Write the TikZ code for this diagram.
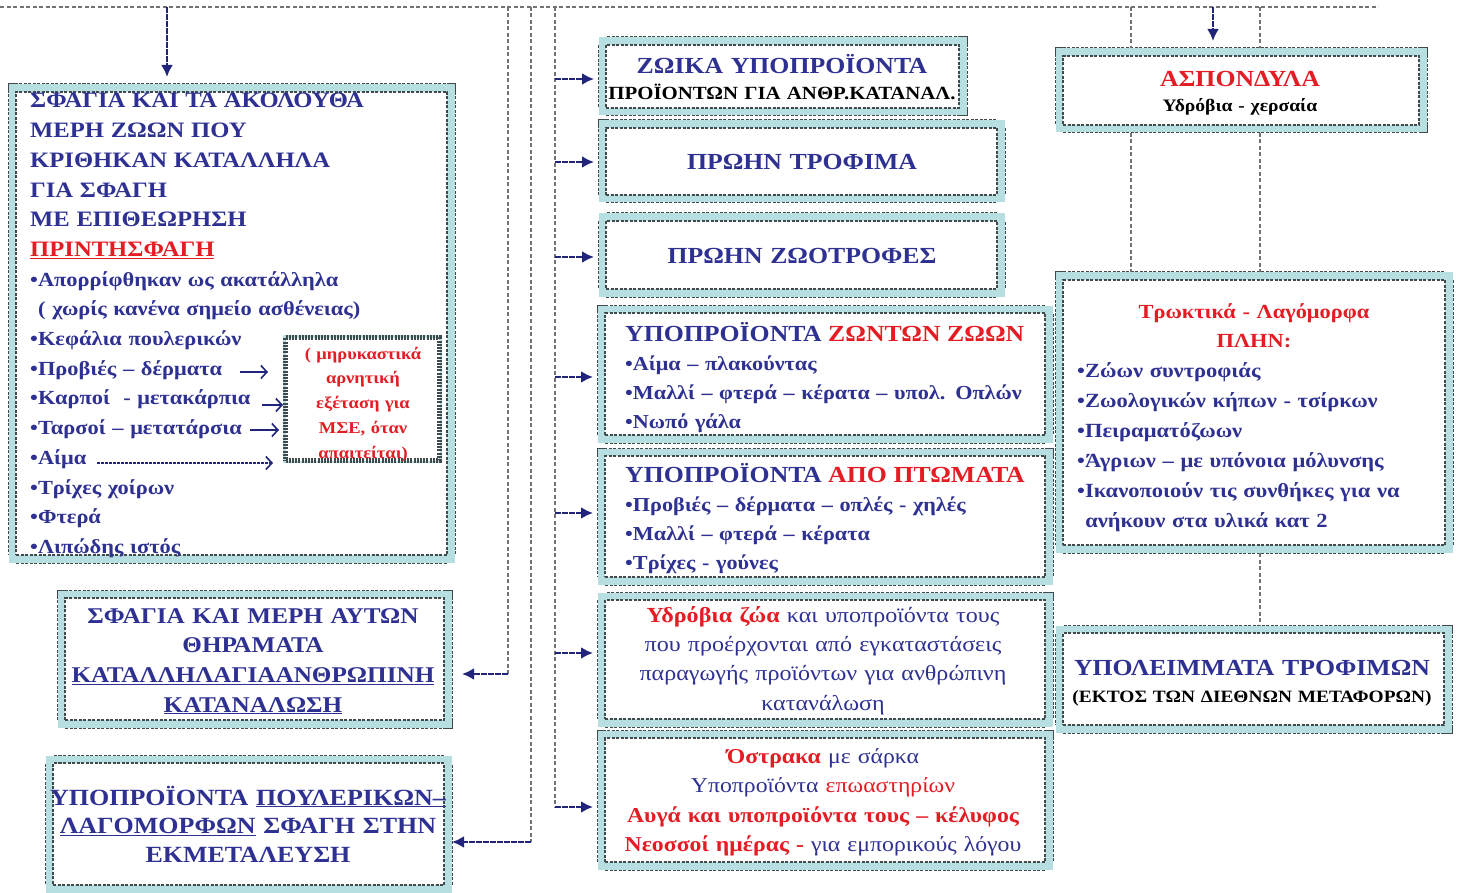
\documentclass[tikz,border=0pt]{standalone}
\usepackage{fontspec}
\setmainfont{Liberation Serif}[FakeStretch=1.12]
\usetikzlibrary{arrows.meta}

\definecolor{navy}{RGB}{46,49,146}
\definecolor{redtxt}{RGB}{228,28,36}
\definecolor{bandteal}{RGB}{183,222,224}
\definecolor{edgegray}{RGB}{64,74,76}
\definecolor{arrnavy}{RGB}{32,36,122}

\newcommand{\capsfont}{\bfseries\fontsize{23}{29.7}\selectfont}
\newcommand{\subfont}{\bfseries\fontsize{18.6}{22}\selectfont}
\newcommand{\listfont}{\bfseries\fontsize{19.8}{29}\selectfont}
\newcommand{\plainfont}{\fontsize{21.5}{29.4}\selectfont}
\newcommand{\msefont}{\bfseries\fontsize{16.5}{24.8}\selectfont}

\tikzset{
  frame/.style={fill=white, draw=edgegray, line width=1.1pt,
    dash pattern=on 3pt off 1.5pt, inner sep=0pt, outer sep=8pt,
    preaction={draw=edgegray, line width=17pt, dash pattern=on 3pt off 1.5pt},
    preaction={draw=bandteal, line width=15pt, solid}},
  msebox/.style={fill=white, draw=edgegray, line width=5pt,
    dash pattern=on 2pt off 1.2pt, inner sep=0pt,
    preaction={draw=bandteal, line width=5pt, solid}},
  spine/.style={draw=black!55, line width=1.1pt, dash pattern=on 4pt off 2.5pt},
  feed/.style={draw=arrnavy, line width=2.6pt, dash pattern=on 6pt off 1pt,
    -{Latex[length=12pt,width=12pt]}},
  pointer/.style={draw=arrnavy, line width=1.6pt,
    -{Straight Barb[length=6pt,width=13pt]}},
  txt/.style={inner sep=0pt, text=navy, align=left, text width=#1},
  txt/.default=420pt,
  ctxt/.style={inner sep=0pt, text=navy, align=center, text width=#1, anchor=base},
  ctxt/.default=480pt
}

\begin{document}
\begin{tikzpicture}[x=1pt,y=-1pt]
  \useasboundingbox (0,0) rectangle (1461,893);

  % dashed bus and spines
  \coordinate (busL) at (0,7);
  \coordinate (busR) at (1378,7);
  \coordinate (sp1) at (508,7);
  \coordinate (sp1b) at (508,674);
  \coordinate (sp2) at (531,7);
  \coordinate (sp2b) at (531,842);
  \coordinate (sp3) at (555,7);
  \coordinate (sp3b) at (555,807);
  \coordinate (rl) at (1131,7);
  \coordinate (rr) at (1260,7);
  \coordinate (dropL) at (167,7);
  \coordinate (dropR) at (1213,7);

  % boxes
  \node[frame, minimum width=431pt, minimum height=463pt] (sfagia) at (231.5,323.5) {};
  \node[frame, minimum width=379pt, minimum height=122pt] (thir) at (254.5,659) {};
  \node[frame, minimum width=391pt, minimum height=122pt] (poul) at (248.5,824) {};
  \node[frame, minimum width=353pt, minimum height=63pt] (zoika) at (782.5,76.5) {};
  \node[frame, minimum width=391pt, minimum height=67pt] (prtrof) at (801.5,161.5) {};
  \node[frame, minimum width=391pt, minimum height=68pt] (przoo) at (801.5,255) {};
  \node[frame, minimum width=440pt, minimum height=122pt] (zonton) at (825,374) {};
  \node[frame, minimum width=440pt, minimum height=121pt] (ptom) at (825,516.5) {};
  \node[frame, minimum width=440pt, minimum height=119pt] (ydro) at (825,659.5) {};
  \node[frame, minimum width=440pt, minimum height=124pt] (ostr) at (825,800) {};
  \node[frame, minimum width=356pt, minimum height=69pt] (aspon) at (1241,90.5) {};
  \node[frame, minimum width=382pt, minimum height=265pt] (trokt) at (1254,412.5) {};
  \node[frame, minimum width=381pt, minimum height=92pt] (ypol) at (1253.5,679) {};
  \node[msebox, minimum width=154pt, minimum height=123pt] (mse) at (362.5,399) {};

  % texts
  \node[txt, anchor=base west, font=\bfseries\fontsize{20}{29.7}\selectfont] (sfagiatxt) at (30,108) {%
    {\fontsize{22}{29.7}\selectfont ΣΦΑΓΙΑ ΚΑΙ ΤΑ ΑΚΟΛΟΥΘΑ\\
    ΜΕΡΗ ΖΩΩΝ ΠΟΥ\\
    ΚΡΙΘΗΚΑΝ ΚΑΤΑΛΛΗΛΑ\\
    ΓΙΑ ΣΦΑΓΗ\\
    ΜΕ ΕΠΙΘΕΩΡΗΣΗ\\
    \textcolor{redtxt}{\underline{ΠΡΙΝΤΗΣΦΑΓΗ}}}\\
    •Απορρίφθηκαν ως ακατάλληλα\\
    \hspace*{0.4em}( χωρίς κανένα σημείο ασθένειας)\\
    •Κεφάλια πουλερικών\\
    •Προβιές – δέρματα\\
    •Καρποί \ - μετακάρπια\\
    •Ταρσοί – μετατάρσια\\
    •Αίμα\\
    •Τρίχες χοίρων\\
    •Φτερά\\
    •Λιπώδης ιστός};
  \node[ctxt, text=redtxt, font=\msefont] (msetxt) at (363,359) {%
    ( μηρυκαστικά\\ αρνητική\\ εξέταση για\\ ΜΣΕ, όταν\\ απαιτείται)};
  \node[ctxt, font=\bfseries\fontsize{22.5}{29.7}\selectfont] (thirtxt) at (253,623) {%
    ΣΦΑΓΙΑ ΚΑΙ ΜΕΡΗ ΑΥΤΩΝ\\
    ΘΗΡΑΜΑΤΑ\\
    \underline{ΚΑΤΑΛΛΗΛΑΓΙΑΑΝΘΡΩΠΙΝΗ}\\
    \underline{ΚΑΤΑΝΑΛΩΣΗ}};
  \node[ctxt, font=\bfseries\fontsize{23.2}{28.5}\selectfont] (poultxt) at (248,805) {%
    ΥΠΟΠΡΟΪΟΝΤΑ \underline{ΠΟΥΛΕΡΙΚΩΝ–}\\
    \underline{ΛΑΓΟΜΟΡΦΩΝ} ΣΦΑΓΗ ΣΤΗΝ\\
    ΕΚΜΕΤΑΛΕΥΣΗ};

  \node[ctxt, font=\capsfont] (zoikatxt) at (782,74) {ΖΩΙΚΑ ΥΠΟΠΡΟΪΟΝΤΑ};
  \node[ctxt, text=black, font=\subfont] (zoikasub) at (782,100) {ΠΡΟΪΟΝΤΩΝ ΓΙΑ ΑΝΘΡ.ΚΑΤΑΝΑΛ.};
  \node[ctxt, font=\capsfont] (prtroftxt) at (802,170) {ΠΡΩΗΝ ΤΡΟΦΙΜΑ};
  \node[ctxt, font=\capsfont] (przootxt) at (802,264) {ΠΡΩΗΝ ΖΩΟΤΡΟΦΕΣ};
  \node[txt, anchor=base west, font=\listfont] (zontontxt) at (625,341) {%
    {\fontsize{23}{29}\selectfont ΥΠΟΠΡΟΪΟΝΤΑ \textcolor{redtxt}{ΖΩΝΤΩΝ ΖΩΩΝ}}\\
    •Αίμα – πλακούντας\\
    •Μαλλί – φτερά – κέρατα – υπολ. Οπλών\\
    •Νωπό γάλα};
  \node[txt, anchor=base west, font=\listfont] (ptomtxt) at (625,482) {%
    {\fontsize{23}{29}\selectfont ΥΠΟΠΡΟΪΟΝΤΑ \textcolor{redtxt}{ΑΠΟ ΠΤΩΜΑΤΑ}}\\
    •Προβιές – δέρματα – οπλές - χηλές\\
    •Μαλλί – φτερά – κέρατα\\
    •Τρίχες - γούνες};
  \node[ctxt, font=\plainfont] (ydrotxt) at (823,622) {%
    \textcolor{redtxt}{\bfseries Υδρόβια ζώα} και υποπροϊόντα τους\\
    που προέρχονται από εγκαταστάσεις\\
    παραγωγής προϊόντων για ανθρώπινη\\
    κατανάλωση};
  \node[ctxt, font=\fontsize{21.2}{29.6}\selectfont] (ostrtxt) at (823,763) {%
    \textcolor{redtxt}{\bfseries Όστρακα} με σάρκα\\
    Υποπροϊόντα \textcolor{redtxt}{επωαστηρίων}\\
    \textcolor{redtxt}{\bfseries Αυγά και υποπροϊόντα τους – κέλυφος}\\
    \textcolor{redtxt}{\bfseries Νεοσσοί ημέρας -} για εμπορικούς λόγου};

  \node[ctxt, text=redtxt, font=\capsfont] (aspontxt) at (1240,87) {ΑΣΠΟΝΔΥΛΑ};
  \node[ctxt, text=black, font=\bfseries\fontsize{17.5}{22}\selectfont] (asponsub) at (1240,112) {Υδρόβια - χερσαία};
  \node[ctxt, text=redtxt, font=\bfseries\fontsize{20}{29}\selectfont] (trokttxt) at (1254,318) {%
    Τρωκτικά - Λαγόμορφα\\ ΠΛΗΝ:};
  \node[txt=380pt, anchor=base west, font=\bfseries\fontsize{20.1}{30}\selectfont] (troktlist) at (1077,377) {%
    •Ζώων συντροφιάς\\
    •Ζωολογικών κήπων - τσίρκων\\
    •Πειραματόζωων\\
    •Άγριων – με υπόνοια μόλυνσης\\
    •Ικανοποιούν τις συνθήκες για να\\
    \hspace*{0.4em}ανήκουν στα υλικά κατ 2};
  \node[ctxt, font=\capsfont] (ypoltxt) at (1252,675) {ΥΠΟΛΕΙΜΜΑΤΑ ΤΡΟΦΙΜΩΝ};
  \node[ctxt, text=black, font=\bfseries\fontsize{17.3}{20}\selectfont] (ypolsub) at (1252,702) {(ΕΚΤΟΣ ΤΩΝ ΔΙΕΘΝΩΝ ΜΕΤΑΦΟΡΩΝ)};

  % spines
  \draw[spine] (busL) -- (busR);
  \draw[spine] (sp1) -- (sp1b);
  \draw[spine] (sp2) -- (sp2b);
  \draw[spine] (sp3) -- (sp3b);
  \draw[spine] (rl) -- (rl |- aspon.north);
  \draw[spine] (rl |- aspon.south) -- (rl |- trokt.north);
  \draw[spine] (rr) -- (rr |- aspon.north);
  \draw[spine] (rr |- aspon.south) -- (rr |- trokt.north);
  \draw[spine] (rr |- trokt.south) -- (rr |- ypol.north);

  % feeding arrows
  \draw[feed, shorten >=7pt] (dropL) -- (dropL |- sfagia.north);
  \draw[feed, shorten >=7pt] (dropR) -- (dropR |- aspon.north);
  \draw[feed, shorten >=10pt] (sp1b) -- (sp1b -| thir.east);
  \draw[feed] (sp2b) -- (sp2b -| poul.east);
  \foreach \y/\tgt in {79/zoika, 162/prtrof, 257/przoo, 377/zonton,
                       513/ptom, 653/ydro, 807/ostr} {
    \coordinate (tap) at (555,\y);
    \draw[feed, shorten >=4pt] (tap) -- (tap -| \tgt.west);
  }

  % arrows to the MSE box
  \coordinate (probiesarr) at (240,372);
  \coordinate (karpoiarr) at (262,405);
  \coordinate (tarsoiarr) at (250,430);
  \coordinate (aimaarr) at (97,463);
  \draw[pointer, shorten >=15pt] (probiesarr) -- (probiesarr -| mse.west);
  \draw[pointer] (karpoiarr) -- (karpoiarr -| mse.west);
  \draw[pointer, shorten >=4pt] (tarsoiarr) -- (tarsoiarr -| mse.west);
  \draw[pointer, dash pattern=on 3pt off 1pt, shorten >=10pt] (aimaarr) -- (aimaarr -| mse.west);
\end{tikzpicture}
\end{document}
